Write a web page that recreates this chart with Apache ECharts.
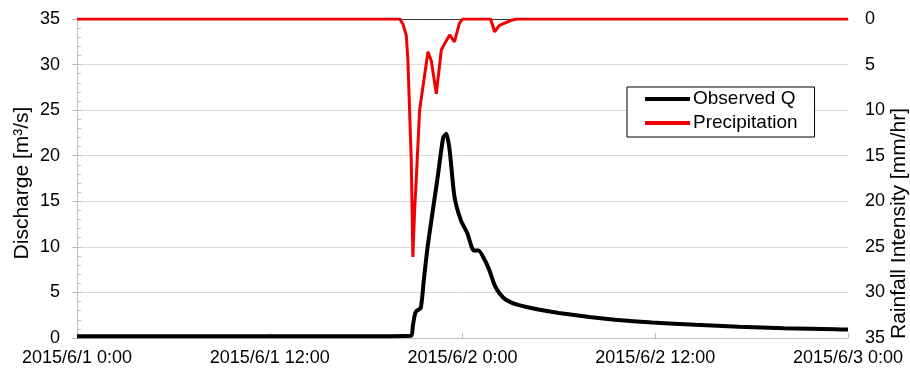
<!DOCTYPE html>
<html>
<head>
<meta charset="utf-8">
<script src="https://cdn.jsdelivr.net/npm/echarts@6/dist/echarts.min.js"></script>
<style>html,body{margin:0;padding:0;background:#fff}#c{width:910px;height:370px}</style>
</head>
<body>
<div id="c"></div>
<script>
// Hours since 2015/6/1 0:00
const xTickLabels = ['2015/6/1 0:00', '2015/6/1 12:00', '2015/6/2 0:00', '2015/6/2 12:00', '2015/6/3 0:00'];

const qHours = [0, 6, 12, 18, 20.8, 20.9, 21.0, 21.1, 21.4, 21.6, 21.85, 22.45, 22.8, 23.0, 23.2, 23.5, 23.9, 24.3, 24.7, 25.0, 25.4, 25.7, 26.0, 26.3, 26.7, 27.5, 28.8, 30.0, 31.9, 33.5, 35.8, 38.5, 41.2, 44.0, 47.2, 48.0];
const observedQ = [0.2, 0.2, 0.2, 0.2, 0.25, 1.2, 2.3, 2.9, 3.3, 6.5, 10.3, 17.6, 22.0, 22.4, 20.6, 15.5, 12.9, 11.5, 9.6, 9.6, 8.5, 7.3, 5.8, 4.9, 4.2, 3.6, 3.1, 2.75, 2.3, 2.0, 1.7, 1.45, 1.24, 1.08, 0.95, 0.92];

const pHours = [0, 20.1, 20.3, 20.5, 20.6, 20.81, 20.91, 21.02, 21.13, 21.33, 21.54, 21.85, 22.06, 22.37, 22.68, 22.89, 23.2, 23.5, 23.8, 24.0, 25.75, 26.0, 26.3, 26.7, 27.1, 27.4, 28.5, 28.6, 28.7, 48];
const precipitation = [0, 0, 0.6, 1.8, 4.5, 15.5, 26.1, 21, 17.3, 10, 7.4, 3.6, 4.6, 8.2, 3.4, 2.7, 1.75, 2.5, 0.5, 0, 0, 1.4, 0.7, 0.4, 0.1, 0, 0, 0.2, 0, 0];

const qData = qHours.map((h, i) => [h, observedQ[i]]);
const pData = pHours.map((h, i) => [h, precipitation[i]]);

const font = 'Liberation Sans, Arial, sans-serif';
const chart = echarts.init(document.getElementById('c'), null, {renderer: 'canvas'});
chart.setOption({
  animation: false,
  backgroundColor: '#fff',
  grid: {left: 77, right: 62, top: 19, bottom: 32, containLabel: false, outerBoundsMode: 'none'},
  legend: {
    orient: 'vertical', left: 627, top: 87,
    backgroundColor: '#fff', borderColor: '#000', borderWidth: 1,
    padding: [2, 17, 4, 18], itemGap: 4, itemWidth: 45, itemHeight: 4,
    textStyle: {fontFamily: font, fontSize: 19, lineHeight: 20, color: '#000', padding: [0, 0, 0, -2]},
    data: [{name: 'Observed Q', icon: 'rect'}, {name: 'Precipitation', icon: 'rect'}]
  },
  xAxis: [{
    type: 'value', min: 0, max: 48, interval: 12,
    axisLine: {lineStyle: {color: '#bfbfbf', width: 1}},
    axisTick: {show: true, inside: true, length: 5, lineStyle: {color: '#bfbfbf'}},
    axisLabel: {fontFamily: font, fontSize: 18, color: '#000', margin: 11,
      formatter: v => xTickLabels[Math.round(v / 12)]},
    splitLine: {show: false}
  }, {
    type: 'value', min: 0, max: 48, position: 'top',
    axisLine: {show: true, onZero: false, lineStyle: {color: '#333', width: 1}},
    axisTick: {show: false}, axisLabel: {show: false}, splitLine: {show: false}
  }],
  yAxis: [{
    type: 'value', min: 0, max: 35, interval: 5, position: 'left',
    name: 'Discharge [m³/s]', nameLocation: 'middle', nameGap: 44, nameMoveOverlap: false,
    nameTextStyle: {fontFamily: font, fontSize: 21, color: '#000', padding: [0, 9, 0, 0]},
    axisLine: {show: true, lineStyle: {color: '#bfbfbf'}},
    axisTick: {show: true, inside: true, length: 5, lineStyle: {color: '#bfbfbf'}},
    minorTick: {show: true, splitNumber: 5, length: 4, lineStyle: {color: '#bfbfbf'}},
    axisLabel: {fontFamily: font, fontSize: 18, color: '#000', margin: 17},
    splitLine: {show: true, lineStyle: {color: '#d9d9d9', width: 1}}
  }, {
    type: 'value', min: 0, max: 35, interval: 5, position: 'right', inverse: true,
    name: 'Rainfall Intensity [mm/hr]', nameLocation: 'middle', nameGap: 41, nameMoveOverlap: false,
    nameTextStyle: {fontFamily: font, fontSize: 21, color: '#000', padding: [0, 90, 0, 0]},
    axisLine: {show: true, lineStyle: {color: '#bfbfbf'}},
    axisTick: {show: true, inside: true, length: 5, lineStyle: {color: '#bfbfbf'}},
    axisLabel: {fontFamily: font, fontSize: 18, color: '#000', margin: 17},
    splitLine: {show: false}
  }],
  series: [{
    name: 'Observed Q', type: 'line', xAxisIndex: 0, yAxisIndex: 0,
    data: qData, showSymbol: false, smooth: 0.2,
    color: '#000', lineStyle: {color: '#000', width: 4}
  }, {
    name: 'Precipitation', type: 'line', xAxisIndex: 0, yAxisIndex: 1,
    data: pData, showSymbol: false,
    color: '#f00000', lineStyle: {color: '#f00000', width: 3}
  }]
});
</script>
</body>
</html>
